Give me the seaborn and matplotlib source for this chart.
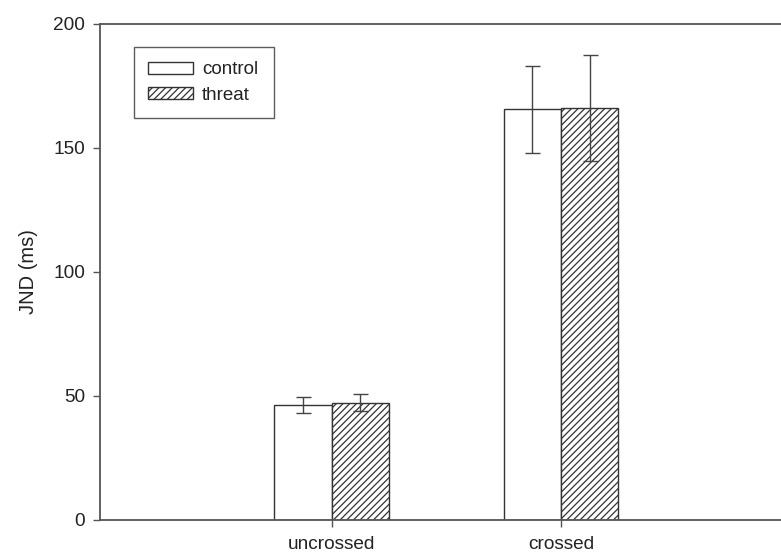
import matplotlib
matplotlib.use("Agg")
import matplotlib.pyplot as plt
import matplotlib.patches as mpatches
import seaborn as sns
import pandas as pd

# Mean JND per arm posture and condition, with error half-widths
postures = ["uncrossed", "crossed"]
conditions = ["control", "threat"]
control_means = [46.5, 165.5]
threat_means = [47.3, 166.0]
control_err = [3.2, 17.5]
threat_err = [3.4, 21.5]
y_ticks = [0, 50, 100, 150, 200]

df = pd.DataFrame({
    "posture": postures * 2,
    "condition": [conditions[0]] * 2 + [conditions[1]] * 2,
    "jnd": control_means + threat_means,
    "err": control_err + threat_err,
})

sns.set_theme(style="white")
plt.rcParams["font.family"] = ["Liberation Sans", "DejaVu Sans"]
plt.rcParams["hatch.linewidth"] = 0.9
plt.rcParams["hatch.color"] = "#333333"

edge = "#333333"
spine_col = "#555555"
text_col = "#222222"
hatch = "/////"

fig = plt.figure(figsize=(7.81, 5.55), dpi=100)
ax = fig.add_axes([100 / 781, 1 - 520 / 555, 681 / 781, 496.5 / 555])

sns.barplot(data=df, x="posture", y="jnd", hue="condition",
            order=postures, hue_order=conditions,
            palette={"control": "white", "threat": "white"},
            edgecolor=edge, linewidth=1.0, width=0.5,
            errorbar=None, legend=False, ax=ax)

# hatch the threat bars and add error bars centred on each bar
for cond, cont in zip(conditions, ax.containers):
    sub = df[df["condition"] == cond].set_index("posture").loc[postures]
    for bar, m, e in zip(cont.patches, sub["jnd"], sub["err"]):
        if cond == "threat":
            bar.set_hatch(hatch)
        cx = bar.get_x() + bar.get_width() / 2
        ax.errorbar(cx, m, yerr=e, color="#444444", elinewidth=1.0,
                    capsize=5.4, capthick=1.0, fmt="none", zorder=5)

ax.set_xlim(-1.011, 1.959)
ax.set_ylim(0, 200)
ax.set_yticks(y_ticks)
ax.set_xlabel("")
ax.set_ylabel("JND (ms)", fontsize=14.5, color=text_col, labelpad=11)

ax.tick_params(axis="y", direction="out", length=4.7, width=1.0,
               color=spine_col, labelsize=13.7, labelcolor=text_col, pad=6,
               left=True)
ax.tick_params(axis="x", direction="out", length=5, width=1.0,
               color=spine_col, labelsize=13.7, labelcolor=text_col, pad=6.5,
               bottom=True)

for side in ["left", "top", "bottom"]:
    ax.spines[side].set_visible(True)
    ax.spines[side].set_color(spine_col)
    ax.spines[side].set_linewidth(1.3)
ax.spines["right"].set_visible(False)

handles = [
    mpatches.Patch(facecolor="white", edgecolor=edge, linewidth=1.0, label="control"),
    mpatches.Patch(facecolor="white", edgecolor=edge, linewidth=1.0, hatch=hatch, label="threat"),
]
leg = ax.legend(handles=handles, loc="upper left",
                bbox_to_anchor=(34 / 681, 0.0, 140 / 681, (520 - 47.3) / 496.5),
                mode="expand", borderaxespad=0, fontsize=13.5,
                frameon=True, fancybox=False, handlelength=2.37,
                handleheight=0.64, handletextpad=0.5, borderpad=0.75,
                labelspacing=0.45)
leg.get_frame().set_edgecolor("#333333")
leg.get_frame().set_linewidth(1.0)
for t in leg.get_texts():
    t.set_color(text_col)

fig.savefig("out.png", dpi=100)
